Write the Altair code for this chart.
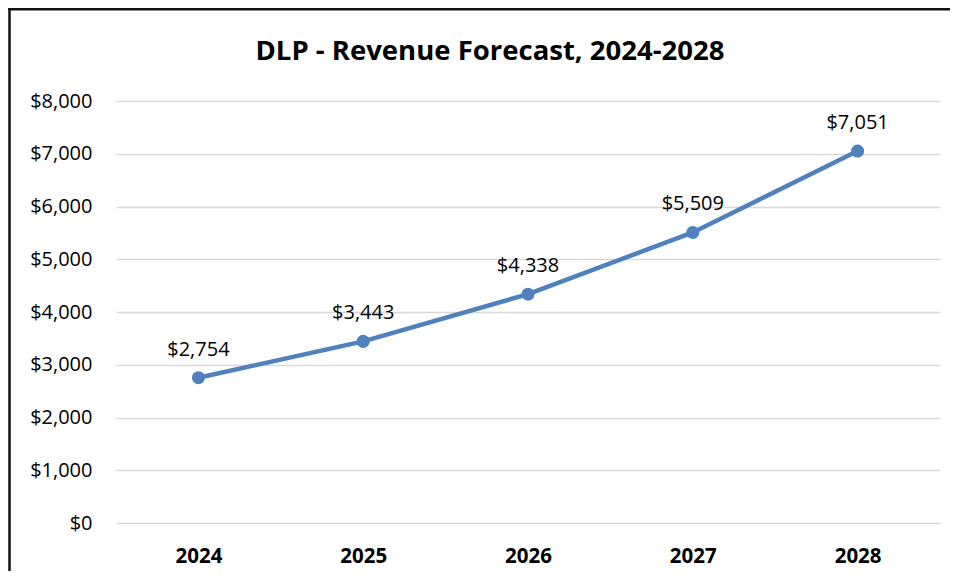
import altair as alt
import pandas as pd

years = ["2024", "2025", "2026", "2027", "2028"]
revenue = [2754, 3443, 4338, 5509, 7051]
labels = ["$2,754", "$3,443", "$4,338", "$5,509", "$7,051"]
title_text = ["DLP - Revenue Forecast, 2024-2028"]

df = pd.DataFrame({"year": years, "revenue": revenue, "label": labels})

FONT = "'Open Sans', sans-serif"
BLUE = "#4F81BD"

base = alt.Chart(df).encode(
    x=alt.X("year:N", sort=years, title=None,
            scale=alt.Scale(paddingInner=0, paddingOuter=0.5),
            axis=alt.Axis(labelAngle=0, labelFontWeight="bold", labelFontSize=20.5,
                          labelColor="#000000", ticks=False, domain=False,
                          labelPadding=23, labelFont=FONT, grid=False)),
    y=alt.Y("revenue:Q", title=None,
            scale=alt.Scale(domain=[0, 8000], nice=False),
            axis=alt.Axis(values=list(range(0, 8001, 1000)), format="$,.0f",
                          labelFontSize=20, labelColor="#000000", labelFont=FONT,
                          ticks=False, domain=False, labelPadding=24,
                          grid=True, gridColor="#d9d9d9", gridWidth=1.5)),
)

line = base.mark_line(color=BLUE, strokeWidth=4.5)
pts = base.mark_point(filled=True, color=BLUE, size=170, opacity=1)
txt = base.mark_text(dy=-28, fontSize=20, font=FONT, color="#000000").encode(text="label:N")

one = pd.DataFrame({"k": [0]})
frame_left = alt.Chart(one).mark_rule(color="#111111", strokeWidth=2.5).encode(
    x=alt.value(-106.5), y=alt.value(-93), y2=alt.value(520)
)
frame_top = alt.Chart(one).mark_rule(color="#111111", strokeWidth=2.5).encode(
    y=alt.value(-91.8), x=alt.value(-107.75), x2=alt.value(834)
)

title = alt.Chart(pd.DataFrame({"t": title_text})).mark_text(
    fontSize=27.5, fontWeight="bold", font=FONT, color="#000000",
    align="center", baseline="alphabetic"
).encode(text="t:N", x=alt.value(374), y=alt.value(-41.5))

chart = alt.layer(frame_left, frame_top, line, pts, txt, title).properties(
    width=824, height=422,
    autosize=alt.AutoSizeParams(type="none"),
    padding={"left": 108, "top": 93, "right": 10, "bottom": 48},
    background="white",
).configure_view(strokeWidth=0, stroke="transparent")

chart.save("out.html", embed_options={"renderer": "svg", "actions": False})
